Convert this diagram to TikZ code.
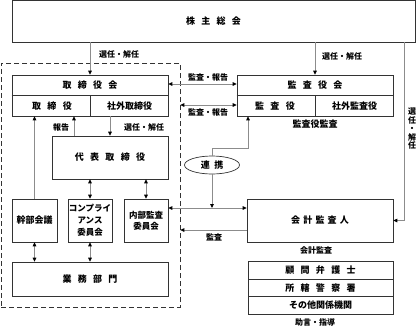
\documentclass[tikz,border=0pt]{standalone}
\usepackage{fontspec}
\setmainfont{Noto Sans CJK JP}
\usetikzlibrary{arrows.meta,shapes.geometric}

\newcommand{\gp}{\hspace{0.7em}}

\begin{document}
\begin{tikzpicture}[x=1pt, y=-1pt, font=\fontsize{9}{10}\selectfont\bfseries,
  box/.style={draw=black!80, line width=0.7pt, inner sep=0pt, align=center},
  con/.style={black!45, line width=0.8pt},
  arr/.style={con, -{Triangle[length=4pt, width=3.6pt, black]}},
  dar/.style={con, {Triangle[length=4pt, width=3.6pt, black]}-{Triangle[length=4pt, width=3.6pt, black]}},
  lab/.style={font=\fontsize{8}{8.5}\selectfont\bfseries, inner sep=0pt, align=center}]
  \useasboundingbox (0,0) rectangle (417,327);

  \node[draw=black!80, line width=0.7pt, dash pattern=on 5pt off 3pt, minimum width=179pt, minimum height=244pt] (frame) at (90.5,185) {};

  \node[box, minimum width=403pt, minimum height=41.5pt] (sh) at (213.5,21.25) {株\gp 主\gp 総\gp 会};

  % board and auditors
  \node[box, minimum width=156pt, minimum height=41pt] (board) at (90,95.5) {};
  \node[box, minimum width=156pt, minimum height=41pt] (kan) at (315,95.5) {};
  \foreach \b in {board, kan} {
    \draw[black!80, line width=0.7pt] (\b.west |- 0,95) -- (\b.east |- 0,95);
    \draw[black!80, line width=0.7pt] (\b |- 0,95) -- (\b.south);
  }
  \node (boardT) at (90,85) {取\gp 締\gp 役\gp 会};
  \node (boardL) at (52,106) {取\gp 締\gp 役};
  \node (boardR) at (129.5,106) {社外取締役};
  \node (kanT) at (315,85) {監\gp 査\gp 役\gp 会};
  \node (kanL) at (275,106) {監\gp 査\gp 役};
  \node (kanR) at (354.5,106) {社外監査役};

  \node[box, minimum width=116pt, minimum height=43pt] (ceo) at (110,157.5) {代\gp 表\gp 取\gp 締\gp 役};
  \node[box, minimum width=45pt, minimum height=43pt] (exec) at (34.5,220.5) {幹部会議};
  \node[box, minimum width=44pt, minimum height=43pt, font=\fontsize{8.5}{12}\selectfont\bfseries] (comp) at (90,220.5) {コンプライ\\アンス\\委員会};
  \node[box, minimum width=44pt, minimum height=43pt, font=\fontsize{8.5}{11}\selectfont\bfseries] (ac) at (146,220.5) {内部監査\\委員会};
  \node[box, minimum width=156pt, minimum height=34pt] (ops) at (90,279) {業\gp 務\gp 部\gp 門};

  \node[box, minimum width=146pt, minimum height=43pt] (acct) at (320,220.5) {会\hspace{0.35em}計\hspace{0.35em}監\hspace{0.35em}査\hspace{0.35em}人};
  \foreach \t [count=\i] in {顧\gp 問\gp 弁\gp 護\gp 士, 所\gp 轄\gp 警\gp 察\gp 署, その他関係機関}
    \node[box, minimum width=145pt, minimum height=17.5pt] (adv\i) at (320.5,253+17.5*\i) {\t};

  \node[draw=black!80, line width=0.7pt, ellipse, minimum width=55pt, minimum height=18pt, inner sep=0pt] (link) at (212,165) {連\hspace{0.5em}携};

  % connectors
  \draw[arr] (board.north |- sh.south) -- (board.north);
  \draw[arr] (kan.north |- sh.south) -- (kan.north);
  \coordinate (rr) at (404,0);
  \draw[arr] (rr |- sh.south) |- (acct.east);
  \draw[dar] ([yshift=11.5pt]board.east) -- ([yshift=11.5pt]kan.west);
  \draw[dar] (frame.east |- 0,105) -- (kan.west |- 0,105);
  \draw[arr] ([xshift=-36pt]ceo.north) -- ([xshift=-36pt]ceo.north |- board.south);
  \draw[arr] (ceo.north |- board.south) -- (ceo.north);
  \draw[arr] (exec.north) -- (exec.north |- board.south);
  \foreach \n in {comp, ac} \draw[dar] (\n.north |- ceo.south) -- (\n.north);
  \foreach \n in {exec, comp} \draw[dar] (\n.south) -- (\n.south |- ops.north);
  \coordinate (mid) at ([yshift=12.5pt]acct.west);
  \draw[dar] (ac.east |- mid) -- (mid);
  \draw[arr] ([yshift=-9.5pt]acct.west) -- (frame.east |- 0,230);
  \draw[arr] (link.south) -- (link.south |- mid);
  \draw[arr] (link.north) -- ++(0,-7.5) -| ([xshift=-67pt]kan.south);

  % labels
  \node[lab] (selA) at (119,54) {選任・解任};
  \node[lab] (selB) at (342,56) {選任・解任};
  \node[lab] (selC) at (412,129) {選\\任\\・\\解\\任};
  \node[lab] (repA) at (208,77) {監査・報告};
  \node[lab] (repB) at (208,112) {監査・報告};
  \node[lab] (repC) at (61,127) {報告};
  \node[lab] (selD) at (144,127) {選任・解任};
  \node[lab, font=\fontsize{9}{10}\selectfont\bfseries] (kanA) at (315,124) {監査役監査};
  \node[lab] (audA) at (214,237) {監査};
  \node[lab] (accA) at (316,250) {会計監査};
  \node[lab] (advA) at (315,322) {助言・指導};
\end{tikzpicture}
\end{document}
